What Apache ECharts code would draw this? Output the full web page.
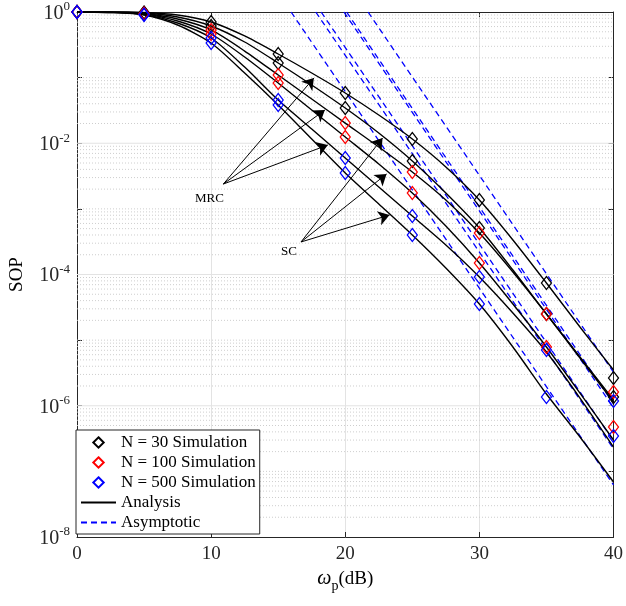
<!DOCTYPE html>
<html><head><meta charset="utf-8">
<script src="https://cdn.jsdelivr.net/npm/echarts@6/dist/echarts.min.js"></script>
<style>html,body{margin:0;padding:0;background:#fff}#c{width:626px;height:606px}</style>
</head><body><div id="c"></div>
<script>
// ---------- data ----------
const simX = [0, 5, 10, 15, 20, 25, 30, 35, 40];
const anaX = [0, 2.5, 5, 7.5, 10, 12.5, 15, 17.5, 20, 22.5, 25, 27.5, 30, 32.5, 35, 37.5, 40];

// simulation markers
const simMRC30  = [1, 0.983, 0.704, 0.229, 0.0583, 0.0116, 0.001365, 7.42e-5, 2.65e-6];
const simSC30   = [1, 0.966, 0.612, 0.167, 0.0344, 0.00536, 0.000511, 2.50e-5, 1.36e-6];
const simMRC100 = [1, 0.949, 0.532, 0.1096, 0.0203, 0.00365, 0.000429, 2.50e-5, 1.62e-6];
const simSC100  = [1, 0.932, 0.462, 0.0828, 0.01245, 0.001745, 0.0001497, 7.86e-6, 4.75e-7];
const simMRC500 = [1, 0.916, 0.402, 0.0456, 0.00596, 0.000779, 9.16e-5, 7.07e-6, 3.46e-7];
const simSC500  = [1, 0.900, 0.337, 0.0383, 0.00352, 0.0004, 3.55e-5, 1.36e-6, 1.18e-6];

// analysis curves
const anaMRC30  = [1, 1, 0.983, 0.900, 0.704, 0.431, 0.229, 0.1176, 0.0583, 0.0269, 0.0116, 0.00435, 0.001365, 0.000336, 7.42e-5, 1.585e-5, 3.50e-6];
const anaSC30   = [1, 1, 0.966, 0.839, 0.612, 0.349, 0.167, 0.0772, 0.0344, 0.0143, 0.00536, 0.001745, 0.000511, 0.0001171, 2.50e-5, 5.53e-6, 1.224e-6];
const anaMRC100 = [1, 1, 0.949, 0.782, 0.532, 0.254, 0.1096, 0.0472, 0.0203, 0.00877, 0.00365, 0.001365, 0.000429, 0.0001092, 2.50e-5, 5.34e-6, 1.14e-6];
const anaSC100  = [1, 1, 0.932, 0.729, 0.462, 0.206, 0.0828, 0.0321, 0.01245, 0.00483, 0.001745, 0.000548, 0.0001497, 3.55e-5, 7.86e-6, 1.56e-6, 3.01e-7];
const anaMRC500 = [1, 0.983, 0.916, 0.680, 0.402, 0.145, 0.0456, 0.0165, 0.00596, 0.00215, 0.000779, 0.000282, 9.16e-5, 2.59e-5, 6.59e-6, 1.31e-6, 2.35e-7];
const anaSC500  = [1, 0.983, 0.900, 0.634, 0.337, 0.1176, 0.0383, 0.0116, 0.00352, 0.001187, 0.0004, 0.0001256, 3.55e-5, 7.86e-6, 1.51e-6, 3.34e-7, 6.89e-8];

// asymptotic straight lines: start x (SOP = 1) and SOP at x = 40
const asyStartX = [15.96, 17.8, 18.2, 19.9, 20.1, 21.7];
const asyStartY = [1, 1, 1, 1, 1, 1];
const asyEndX   = [40, 40, 40, 40, 40, 40];
const asyEndY   = [6.2e-8, 2.2e-7, 2.9e-7, 9.3e-7, 1.07e-6, 3.24e-6];

// annotations (data coordinates)
const mrcOrigin = [10.91, 2.39e-3];
const mrcTips   = [[17.66, 0.0986], [18.48, 0.0321], [18.70, 9.4e-3]];
const scOrigin  = [16.70, 3.13e-4];
const scTips    = [[22.78, 0.0120], [23.08, 3.40e-3], [23.30, 8.07e-4]];
const mrcLabelPos = [9.87, 1.46e-3];
const scLabelPos  = [15.81, 2.2e-4];

const legendNames = ['N = 30 Simulation', 'N = 100 Simulation', 'N = 500 Simulation', 'Analysis', 'Asymptotic'];
const xTicks = [0, 10, 20, 30, 40];
const majorGridY = [1e-2, 1e-4, 1e-6];
const minorMantissa = [1, 2, 3, 4, 5, 6, 7, 8, 9];
const decades = [0, -1, -2, -3, -4, -5, -6, -7, -8];

// ---------- build ----------
const FONT = "'Liberation Serif', 'Times New Roman', serif";
const AX = '#262626';
const zip = (xs, ys) => xs.map((x, i) => [x, ys[i]]);

function simSeries(name, ys, color) {
  return {
    type: 'line', name, data: zip(simX, ys), clip: false, z: 5,
    symbol: 'diamond', symbolSize: [10, 13], showSymbol: true, showAllSymbol: true,
    lineStyle: { opacity: 0 },
    itemStyle: { color: 'rgba(0,0,0,0)', borderColor: color, borderWidth: 1.3 },
    emphasis: { disabled: true }, animation: false
  };
}
function anaSeries(ys) {
  return {
    type: 'line', name: 'Analysis', data: zip(anaX, ys), smooth: 0.25, symbol: 'none', z: 3,
    lineStyle: { color: '#000', width: 1.4 }, itemStyle: { color: '#000' },
    emphasis: { disabled: true }, animation: false
  };
}
function asySeries(i) {
  return {
    type: 'line', name: 'Asymptotic', data: [[asyStartX[i], asyStartY[i]], [asyEndX[i], asyEndY[i]]],
    symbol: 'none', z: 2,
    lineStyle: { color: '#0000ff', width: 1.3, type: [6, 4] }, itemStyle: { color: '#0000ff' },
    emphasis: { disabled: true }, animation: false
  };
}
function gridSeries(v, major) {
  return {
    type: 'line', name: 'grid', data: [[xTicks[0], v], [xTicks[xTicks.length - 1], v]],
    symbol: 'none', z: 1, silent: true, animation: false,
    lineStyle: major ? { color: '#e3e3e3', width: 1, type: 'solid' } : { color: '#c8c8c8', width: 0.9, type: [1, 2] },
    emphasis: { disabled: true }
  };
}

const gridList = [];
decades.forEach(d => {
  minorMantissa.forEach(k => {
    const v = k * Math.pow(10, d);
    if (v >= 1 || v <= 1e-8) return;
    if (k === 1 && d % 2 === 0) return;
    gridList.push(gridSeries(v, false));
  });
});
majorGridY.forEach(v => gridList.push(gridSeries(v, true)));

const arrowData = [];
mrcTips.forEach(t => arrowData.push([{ coord: mrcOrigin }, { coord: t }]));
scTips.forEach(t => arrowData.push([{ coord: scOrigin }, { coord: t }]));

const series = gridList.concat([
  asySeries(0), asySeries(1), asySeries(2), asySeries(3), asySeries(4), asySeries(5),
  anaSeries(anaMRC30), anaSeries(anaSC30), anaSeries(anaMRC100),
  anaSeries(anaSC100), anaSeries(anaMRC500), anaSeries(anaSC500),
  simSeries('N = 30 Simulation', simMRC30, '#000000'),
  simSeries('N = 30 Simulation', simSC30, '#000000'),
  simSeries('N = 100 Simulation', simMRC100, '#ff0000'),
  simSeries('N = 100 Simulation', simSC100, '#ff0000'),
  simSeries('N = 500 Simulation', simMRC500, '#0000ff'),
  simSeries('N = 500 Simulation', simSC500, '#0000ff'),
  {
    type: 'line', name: 'annot', data: [], z: 6, silent: true,
    markLine: {
      silent: true, animation: false, symbol: ['none', 'arrow'], symbolSize: 11,
      label: { show: false }, lineStyle: { color: '#000', width: 1, type: 'solid' },
      data: arrowData
    },
    markPoint: {
      silent: true, animation: false, symbol: 'rect', symbolSize: 1,
      itemStyle: { color: 'rgba(0,0,0,0)' },
      label: { show: true, position: 'inside', color: '#000', fontFamily: FONT, fontSize: 13, formatter: '{b}' },
      data: [{ name: 'MRC', coord: mrcLabelPos }, { name: 'SC', coord: scLabelPos }]
    }
  }
]);

const hideSym = { color: 'rgba(0,0,0,0)', borderColor: 'rgba(0,0,0,0)', borderWidth: 0 };

const chart = echarts.init(document.getElementById('c'), null, { renderer: 'canvas' });
chart.setOption({
  animation: false,
  backgroundColor: '#fff',
  grid: { left: 75, right: 12, top: 12, bottom: 69, containLabel: false },
  legend: {
    orient: 'vertical', left: 76, top: 430, padding: [4, 4, 3, 4],
    itemWidth: 35, itemHeight: 13, itemGap: 3,
    backgroundColor: '#fff', borderColor: AX, borderWidth: 1, borderRadius: 0,
    textStyle: { fontFamily: FONT, fontSize: 17, color: '#000', lineHeight: 17 },
    selectedMode: false,
    data: [
      { name: legendNames[0] }, { name: legendNames[1] }, { name: legendNames[2] },
      { name: legendNames[3], itemStyle: hideSym },
      { name: legendNames[4], itemStyle: hideSym }
    ]
  },
  xAxis: [
    {
      type: 'value', min: xTicks[0], max: xTicks[xTicks.length - 1], interval: 10, position: 'bottom',
      axisLine: { show: true, onZero: false, lineStyle: { color: AX, width: 1 } },
      axisTick: { show: true, inside: true, length: 5, lineStyle: { color: AX } },
      axisLabel: { fontFamily: FONT, fontSize: 19, color: AX, margin: 8 },
      splitLine: { show: true, lineStyle: { color: '#e3e3e3', width: 1 } },
      name: '{w|ω}{p|p}{n|(dB)}', nameLocation: 'middle', nameGap: 31,
      nameTextStyle: {
        rich: {
          w: { fontFamily: FONT, fontSize: 20, fontStyle: 'italic', color: '#000', verticalAlign: 'bottom' },
          p: { fontFamily: FONT, fontSize: 14, color: '#000', verticalAlign: 'bottom', padding: [0, 0, -4, 0] },
          n: { fontFamily: FONT, fontSize: 19, color: '#000', verticalAlign: 'bottom' }
        }
      }
    },
    {
      type: 'value', min: 0, max: 40, interval: 10, position: 'top',
      axisLine: { show: true, onZero: false, lineStyle: { color: AX, width: 1 } },
      axisTick: { show: true, inside: true, length: 5, lineStyle: { color: AX } },
      axisLabel: { show: false }, splitLine: { show: false }
    }
  ],
  yAxis: [
    {
      type: 'log', logBase: 10, min: 1e-8, max: 1, splitNumber: 8, position: 'left',
      axisLine: { show: true, onZero: false, lineStyle: { color: AX, width: 1 } },
      axisTick: { show: true, inside: true, length: 5, lineStyle: { color: AX } },
      splitLine: { show: false },
      axisLabel: {
        margin: 7, color: AX,
        formatter: v => {
          const e = Math.round(Math.log10(v));
          return e % 2 === 0 ? '{b|10}{s|' + e + '}' : '';
        },
        rich: {
          b: { fontFamily: FONT, fontSize: 20, color: AX, verticalAlign: 'bottom' },
          s: { fontFamily: FONT, fontSize: 13, color: AX, verticalAlign: 'bottom', padding: [0, 0, 10, 0] }
        }
      },
      name: 'SOP', nameLocation: 'middle', nameGap: 50, nameRotate: 90,
      nameTextStyle: { fontFamily: FONT, fontSize: 19, color: '#000' }
    },
    {
      type: 'log', logBase: 10, min: 1e-8, max: 1, splitNumber: 8, position: 'right',
      axisLine: { show: true, onZero: false, lineStyle: { color: AX, width: 1 } },
      axisTick: { show: true, inside: true, length: 5, lineStyle: { color: AX } },
      axisLabel: { show: false }, splitLine: { show: false }
    }
  ],
  series
});
</script></body></html>
